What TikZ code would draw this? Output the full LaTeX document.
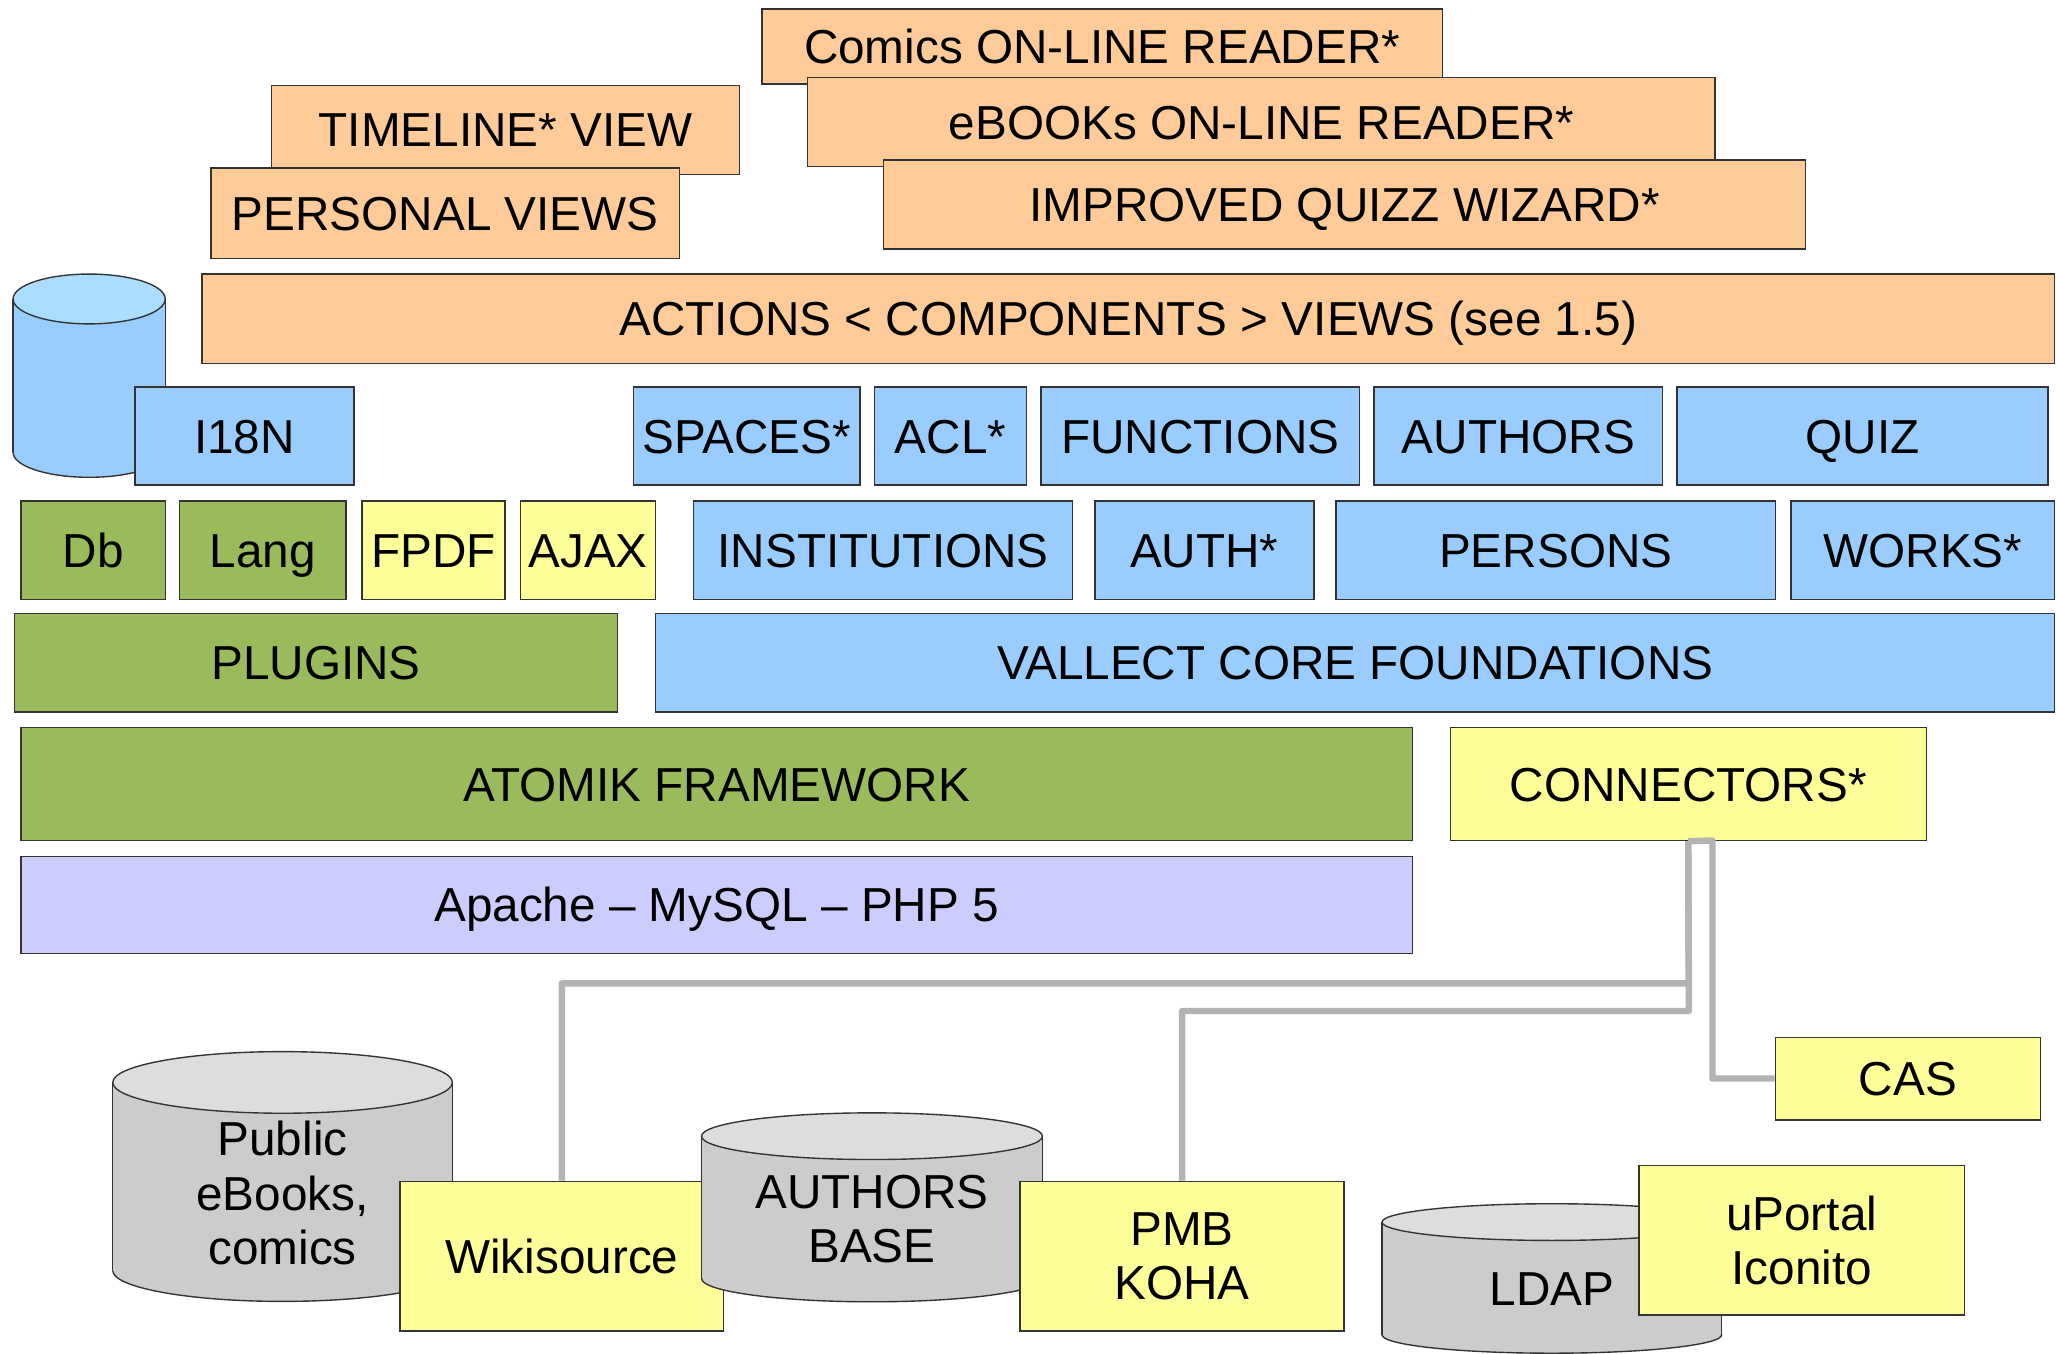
\documentclass[tikz,border=0pt]{standalone}
\usepackage{fontspec}
\setmainfont{Liberation Sans}
\definecolor{cOrange}{HTML}{FFCC99}
\definecolor{cBlue}{HTML}{99CCFF}
\definecolor{cBlueTop}{HTML}{AADDFF}
\definecolor{cGreen}{HTML}{99BB5C}
\definecolor{cYellow}{HTML}{FFFF99}
\definecolor{cLav}{HTML}{CCCCFF}
\definecolor{cGray}{HTML}{CCCCCC}
\definecolor{cGrayTop}{HTML}{DDDDDD}
\definecolor{cLink}{HTML}{B3B3B3}
\definecolor{cEdge}{HTML}{333333}
\tikzset{
  box/.style={draw=cEdge, line width=0.6pt, inner sep=0pt, align=center, anchor=center,
    text height=14.8pt, text depth=0pt},
  multi/.style={text height=, text depth=},
  obox/.style={box, fill=cOrange},
  bbox/.style={box, fill=cBlue},
  gbox/.style={box, fill=cGreen},
  ybox/.style={box, fill=cYellow},
  lbox/.style={box, fill=cLav},
  cyltext/.style={align=center, inner sep=0pt},
  link/.style={draw=cLink, line width=2.8pt, line join=round}
}
\newcommand\bx[7]{%
  \pgfmathsetmacro\bxw{(#4-#2)*0.02}%
  \pgfmathsetmacro\bxh{(#5-#3)*0.02}%
  \node[#6, minimum width=\bxw cm, minimum height=\bxh cm] (#1) at ({(#2+#4)/2},{(#3+#5)/2}) {#7};}
% L R T B ry body top
\newcommand\cyl[7]{%
  \filldraw[draw=cEdge, line width=0.6pt, fill=#6] ({(#1+#2)/2},#4) ellipse [x radius={(#2-#1)/2}, y radius=#5];
  \fill[#6] (#1,#3) rectangle (#2,#4);
  \draw[draw=cEdge, line width=0.6pt] (#1,#3) -- (#1,#4) (#2,#3) -- (#2,#4);
  \filldraw[draw=cEdge, line width=0.6pt, fill=#7] ({(#1+#2)/2},#3) ellipse [x radius={(#2-#1)/2}, y radius=#5];
}
\begin{document}
\begin{tikzpicture}[x=0.02cm, y=-0.02cm, font=\fontsize{20.7}{23.6}\selectfont]
\useasboundingbox (0,0) rectangle (1568,1032.6);

% orange layer
\bx{comics}{581}{7}{1100}{64}{obox}{Comics ON-LINE READER*}
\bx{timeline}{207}{65}{564}{133}{obox}{TIMELINE* VIEW}
\bx{ebooks}{616}{59}{1308}{127}{obox}{eBOOKs ON-LINE READER*}
\bx{personal}{161}{128}{518}{197}{obox}{PERSONAL VIEWS}
\bx{quizz}{674}{122}{1377}{190}{obox}{IMPROVED QUIZZ WIZARD*}
\bx{actions}{154}{209}{1567}{277}{obox}{ACTIONS < COMPONENTS > VIEWS (see 1.5)}

% blue cylinder
\cyl{10}{126}{228}{345}{19}{cBlue}{cBlueTop}

% blue row
\bx{i18n}{103}{295}{270}{370}{bbox}{I18N}
\bx{spaces}{483}{295}{656}{370}{bbox}{SPACES*}
\bx{acl}{667}{295}{783}{370}{bbox}{ACL*}
\bx{functions}{794}{295}{1037}{370}{bbox}{FUNCTIONS}
\bx{authors}{1048}{295}{1268}{370}{bbox}{AUTHORS}
\bx{quiz}{1279}{295}{1562}{370}{bbox}{QUIZ}

% second row
\bx{db}{16}{382}{126}{457}{gbox}{Db}
\bx{lang}{137}{382}{264}{457}{gbox}{Lang}
\bx{fpdf}{276}{382}{385}{457}{ybox}{FPDF}
\bx{ajax}{397}{382}{500}{457}{ybox}{AJAX}
\bx{institutions}{529}{382}{818}{457}{bbox}{INSTITUTIONS}
\bx{auth}{835}{382}{1002}{457}{bbox}{AUTH*}
\bx{persons}{1019}{382}{1354}{457}{bbox}{PERSONS}
\bx{works}{1366}{382}{1567}{457}{bbox}{WORKS*}

% third row
\bx{plugins}{11}{468}{471}{543}{gbox}{PLUGINS}
\bx{vallect}{500}{468}{1567}{543}{bbox}{VALLECT CORE FOUNDATIONS}

% fourth row
\bx{atomik}{16}{555}{1077}{641}{gbox}{ATOMIK FRAMEWORK}
\bx{conn}{1106}{555}{1469}{641}{ybox}{CONNECTORS*}
\bx{apache}{16}{653}{1077}{727}{lbox}{Apache -- MySQL -- PHP 5}

% bottom: external systems
\cyl{86}{345}{825.5}{969}{23.5}{cGray}{cGrayTop}
\node[cyltext] (public) at (215.5,910) {Public\\eBooks,\\comics};
\bx{wiki}{305}{901}{552}{1015}{ybox}{Wikisource}
\cyl{535}{795}{866.5}{975}{17.8}{cGray}{cGrayTop}
\node[cyltext] (authbase) at (665,929.5) {AUTHORS\\BASE};
\bx{pmb}{778}{901}{1025}{1015}{ybox,multi}{PMB\\KOHA}
\cyl{1054}{1313}{932}{1018}{14}{cGray}{cGrayTop}
\node[cyltext] (ldap) at (1183.5,983) {LDAP};
\bx{uportal}{1250}{889}{1498}{1003}{ybox,multi}{uPortal\\Iconito}
\bx{cas}{1354}{791}{1556}{854}{ybox}{CAS}

% connectors
\coordinate (c1) at (1288,750);
\coordinate (c2) at (1288,771);
\coordinate (c3) at (1306,641);
\draw[link] (conn.south) -- (c1) -| (wiki.north);
\draw[link] (conn.south) -- (c2) -| (pmb.north);
\draw[link] (conn.south) -- (c3) |- (cas.west);
\end{tikzpicture}
\end{document}
